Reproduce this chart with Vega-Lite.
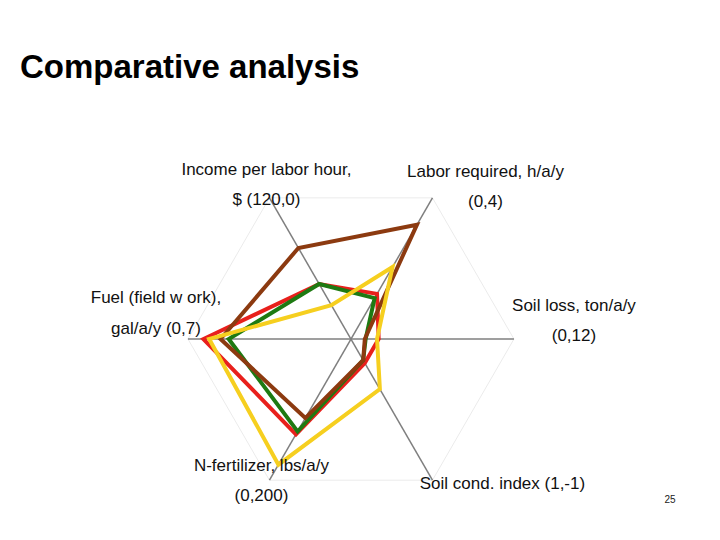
{
  "$schema": "https://vega.github.io/schema/vega-lite/v6.json",
  "width": 720,
  "height": 540,
  "autosize": "none",
  "padding": 0,
  "background": "white",
  "title": {
    "text": "Comparative analysis",
    "anchor": "start",
    "frame": "group",
    "orient": "top",
    "offset": 0,
    "dx": 20,
    "dy": 111,
    "baseline": "alphabetic",
    "font": "Liberation Sans",
    "fontSize": 33,
    "fontWeight": "bold",
    "color": "black"
  },
  "config": {"view": {"stroke": null}, "axis": {"disable": true}},
  "datasets": {
    "axes": [
      {"k": 0, "label": "Soil loss, ton/a/y|(0,12)"},
      {"k": 1, "label": "Labor required, h/a/y|(0,4)"},
      {"k": 2, "label": "Income per labor hour,|$ (120,0)"},
      {"k": 3, "label": "Fuel (field w ork),|gal/a/y (0,7)"},
      {"k": 4, "label": "N-fertilizer, lbs/a/y|(0,200)"},
      {"k": 5, "label": "Soil cond. index (1,-1)"}
    ],
    "series": [
      {"system": "A", "k": 0, "value": 0.17},
      {"system": "A", "k": 1, "value": 0.32},
      {"system": "A", "k": 2, "value": 0.39},
      {"system": "A", "k": 3, "value": 0.905},
      {"system": "A", "k": 4, "value": 0.675},
      {"system": "A", "k": 5, "value": 0.17},
      {"system": "B", "k": 0, "value": 0.09},
      {"system": "B", "k": 1, "value": 0.29},
      {"system": "B", "k": 2, "value": 0.39},
      {"system": "B", "k": 3, "value": 0.75},
      {"system": "B", "k": 4, "value": 0.655},
      {"system": "B", "k": 5, "value": 0.15},
      {"system": "C", "k": 0, "value": 0.085},
      {"system": "C", "k": 1, "value": 0.81},
      {"system": "C", "k": 2, "value": 0.645},
      {"system": "C", "k": 3, "value": 0.8},
      {"system": "C", "k": 4, "value": 0.56},
      {"system": "C", "k": 5, "value": 0.15},
      {"system": "D", "k": 0, "value": 0.16},
      {"system": "D", "k": 1, "value": 0.51},
      {"system": "D", "k": 2, "value": 0.24},
      {"system": "D", "k": 3, "value": 0.87},
      {"system": "D", "k": 4, "value": 0.89},
      {"system": "D", "k": 5, "value": 0.355}
    ]
  },
  "layer": [
    {
      "data": {"name": "axes"},
      "transform": [
        {"calculate": "cos(datum.k * PI / 3)", "as": "ex"},
        {"calculate": "sin(datum.k * PI / 3)", "as": "ey"}
      ],
      "mark": {"type": "line", "interpolate": "linear-closed", "color": "#ebebeb", "strokeWidth": 1},
      "encoding": {
        "x": {"field": "ex", "type": "quantitative", "scale": {"domain": [-2.153, 2.264], "nice": false, "zero": false}},
        "y": {"field": "ey", "type": "quantitative", "scale": {"domain": [-1.233, 2.08], "nice": false, "zero": false}},
        "order": {"field": "k"}
      }
    },
    {
      "data": {"name": "axes"},
      "transform": [
        {"calculate": "cos(datum.k * PI / 3)", "as": "ex"},
        {"calculate": "sin(datum.k * PI / 3)", "as": "ey"}
      ],
      "mark": {"type": "rule", "color": "#7f7f7f", "strokeWidth": 1.5},
      "encoding": {
        "x": {"field": "ex", "type": "quantitative", "scale": {"domain": [-2.153, 2.264], "nice": false, "zero": false}},
        "y": {"field": "ey", "type": "quantitative", "scale": {"domain": [-1.233, 2.08], "nice": false, "zero": false}},
        "x2": {"datum": 0},
        "y2": {"datum": 0}
      }
    },
    {
      "data": {"name": "series"},
      "transform": [
        {"calculate": "datum.value * cos(datum.k * PI / 3)", "as": "px"},
        {"calculate": "datum.value * sin(datum.k * PI / 3)", "as": "py"}
      ],
      "mark": {"type": "line", "interpolate": "linear-closed", "strokeWidth": 4, "strokeJoin": "miter"},
      "encoding": {
        "x": {"field": "px", "type": "quantitative", "scale": {"domain": [-2.153, 2.264], "nice": false, "zero": false}},
        "y": {"field": "py", "type": "quantitative", "scale": {"domain": [-1.233, 2.08], "nice": false, "zero": false}},
        "color": {
          "field": "system",
          "type": "nominal",
          "legend": null,
          "scale": {"domain": ["A", "B", "C", "D"], "range": ["#e8201c", "#1e7a12", "#8c3a10", "#f6cf1f"]}
        },
        "order": {"field": "k"}
      }
    },
    {
      "data": {"name": "axes"},
      "transform": [
        {"filter": "datum.k == 0"},
        {"calculate": "cos(datum.k * PI / 3)", "as": "ex"},
        {"calculate": "sin(datum.k * PI / 3)", "as": "ey"}
      ],
      "mark": {"type": "text", "lineBreak": "|", "lineHeight": 30, "font": "Liberation Sans", "fontSize": 17, "color": "#111", "align": "center", "baseline": "middle", "dx": 60, "dy": -33},
      "encoding": {
        "x": {"field": "ex", "type": "quantitative", "scale": {"domain": [-2.153, 2.264], "nice": false, "zero": false}},
        "y": {"field": "ey", "type": "quantitative", "scale": {"domain": [-1.233, 2.08], "nice": false, "zero": false}},
        "text": {"field": "label"}
      }
    },
    {
      "data": {"name": "axes"},
      "transform": [
        {"filter": "datum.k == 1"},
        {"calculate": "cos(datum.k * PI / 3)", "as": "ex"},
        {"calculate": "sin(datum.k * PI / 3)", "as": "ey"}
      ],
      "mark": {"type": "text", "lineBreak": "|", "lineHeight": 30, "font": "Liberation Sans", "fontSize": 17, "color": "#111", "align": "center", "baseline": "middle", "dx": 53, "dy": -26},
      "encoding": {
        "x": {"field": "ex", "type": "quantitative", "scale": {"domain": [-2.153, 2.264], "nice": false, "zero": false}},
        "y": {"field": "ey", "type": "quantitative", "scale": {"domain": [-1.233, 2.08], "nice": false, "zero": false}},
        "text": {"field": "label"}
      }
    },
    {
      "data": {"name": "axes"},
      "transform": [
        {"filter": "datum.k == 2"},
        {"calculate": "cos(datum.k * PI / 3)", "as": "ex"},
        {"calculate": "sin(datum.k * PI / 3)", "as": "ey"}
      ],
      "mark": {"type": "text", "lineBreak": "|", "lineHeight": 30, "font": "Liberation Sans", "fontSize": 17, "color": "#111", "align": "center", "baseline": "middle", "dx": -3, "dy": -28},
      "encoding": {
        "x": {"field": "ex", "type": "quantitative", "scale": {"domain": [-2.153, 2.264], "nice": false, "zero": false}},
        "y": {"field": "ey", "type": "quantitative", "scale": {"domain": [-1.233, 2.08], "nice": false, "zero": false}},
        "text": {"field": "label"}
      }
    },
    {
      "data": {"name": "axes"},
      "transform": [
        {"filter": "datum.k == 3"},
        {"calculate": "cos(datum.k * PI / 3)", "as": "ex"},
        {"calculate": "sin(datum.k * PI / 3)", "as": "ey"}
      ],
      "mark": {"type": "text", "lineBreak": "|", "lineHeight": 31, "font": "Liberation Sans", "fontSize": 17, "color": "#111", "align": "center", "baseline": "middle", "dx": -32, "dy": -41},
      "encoding": {
        "x": {"field": "ex", "type": "quantitative", "scale": {"domain": [-2.153, 2.264], "nice": false, "zero": false}},
        "y": {"field": "ey", "type": "quantitative", "scale": {"domain": [-1.233, 2.08], "nice": false, "zero": false}},
        "text": {"field": "label"}
      }
    },
    {
      "data": {"name": "axes"},
      "transform": [
        {"filter": "datum.k == 4"},
        {"calculate": "cos(datum.k * PI / 3)", "as": "ex"},
        {"calculate": "sin(datum.k * PI / 3)", "as": "ey"}
      ],
      "mark": {"type": "text", "lineBreak": "|", "lineHeight": 30, "font": "Liberation Sans", "fontSize": 17, "color": "#111", "align": "center", "baseline": "middle", "dx": -8, "dy": -14},
      "encoding": {
        "x": {"field": "ex", "type": "quantitative", "scale": {"domain": [-2.153, 2.264], "nice": false, "zero": false}},
        "y": {"field": "ey", "type": "quantitative", "scale": {"domain": [-1.233, 2.08], "nice": false, "zero": false}},
        "text": {"field": "label"}
      }
    },
    {
      "data": {"name": "axes"},
      "transform": [
        {"filter": "datum.k == 5"},
        {"calculate": "cos(datum.k * PI / 3)", "as": "ex"},
        {"calculate": "sin(datum.k * PI / 3)", "as": "ey"}
      ],
      "mark": {"type": "text", "lineBreak": "|", "lineHeight": 30, "font": "Liberation Sans", "fontSize": 17, "color": "#111", "align": "center", "baseline": "middle", "dx": 70, "dy": 4},
      "encoding": {
        "x": {"field": "ex", "type": "quantitative", "scale": {"domain": [-2.153, 2.264], "nice": false, "zero": false}},
        "y": {"field": "ey", "type": "quantitative", "scale": {"domain": [-1.233, 2.08], "nice": false, "zero": false}},
        "text": {"field": "label"}
      }
    },
    {
      "data": {"values": [{"page": "25"}]},
      "mark": {"type": "text", "font": "Liberation Sans", "fontSize": 10, "color": "#222", "align": "center", "baseline": "middle"},
      "encoding": {
        "x": {"datum": 1.957, "type": "quantitative", "scale": {"domain": [-2.153, 2.264], "nice": false, "zero": false}},
        "y": {"datum": -0.988, "type": "quantitative", "scale": {"domain": [-1.233, 2.08], "nice": false, "zero": false}},
        "text": {"field": "page"}
      }
    }
  ]
}
